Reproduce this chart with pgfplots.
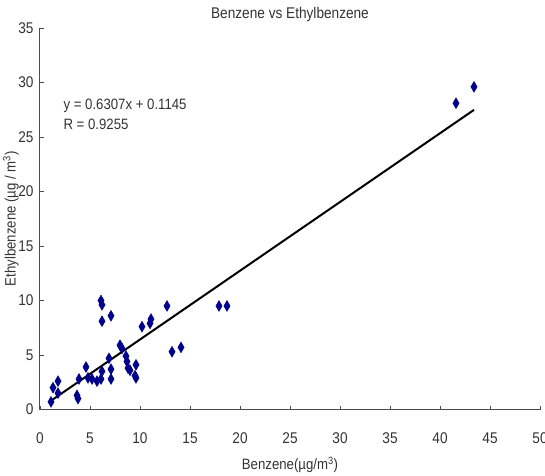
\documentclass[border=0pt]{standalone}
\usepackage{fontspec}
\setmainfont{Liberation Sans}[FakeStretch=0.88]
\usepackage{pgfplots}
\pgfplotsset{compat=1.18}
\definecolor{navy}{RGB}{0,0,140}
\begin{document}
\begin{tikzpicture}
\begin{axis}[
  at={(0,0)}, anchor=south west,
  scale only axis, width=500pt, height=381.5pt,
  xmin=0, xmax=50, ymin=0, ymax=35,
  axis lines=left, axis line style={-, draw=black!70, line width=1pt},
  xtick={0,5,...,50}, ytick={0,5,...,35},
  tick align=inside, major tick length=4pt,
  tick style={draw=black!70, line width=0.8pt},
  /pgf/number format/assume math mode=true,
  ticklabel style={font=\fontsize{15.5}{18}\selectfont, text=black!80},
  xticklabel style={yshift=-20pt},
  yticklabel style={xshift=-3pt},
  xlabel={Benzene(\textmu g/m\textsuperscript{3})},
  ylabel={Ethylbenzene (\textmu g / m\textsuperscript{3})},
  label style={font=\fontsize{15}{18}\selectfont, text=black!80},
  xlabel style={at={(axis description cs:0.5,0)}, anchor=center, yshift=-55pt},
  ylabel style={at={(axis description cs:-0.058,0.5)}, anchor=center},
  title={Benzene vs Ethylbenzene},
  title style={at={(axis description cs:0.5,1)}, anchor=center, yshift=8pt, font=\fontsize{15.5}{18}\selectfont, text=black!80},
  clip=false,
]
\addplot[only marks, mark=diamond*, mark size=4.2pt, color=navy,
  mark options={yscale=1.3, fill=navy, draw=navy}] coordinates {
(1.1,0.7) (1.3,2.0) (1.8,2.6) (1.8,1.5) (3.7,1.3) (3.8,1.0) (3.9,2.8)
(4.6,3.9) (4.8,2.9) (5.2,2.8) (5.7,2.6) (6.1,2.8) (6.2,3.5)
(6.1,10.0) (6.2,9.6) (6.2,8.1) (7.1,8.6) (6.9,4.7) (7.1,3.7) (7.1,2.8)
(8.0,5.9) (8.2,5.6) (8.6,4.9) (8.7,4.4) (8.8,3.8) (9.0,3.6)
(9.6,4.1) (9.6,2.9) (9.5,3.1) (10.2,7.6) (11.0,7.9) (11.1,8.3)
(12.7,9.5) (13.2,5.3) (14.1,5.7) (17.9,9.5) (18.7,9.5)
(41.6,28.1) (43.4,29.6)
};
\addplot[black, line width=2pt] coordinates {(1.0,0.745) (43.4,27.49)};
\node[anchor=west, font=\fontsize{15}{18}\selectfont, text=black!80] at (axis cs:2.0,27.9) {y = 0.6307x + 0.1145};
\node[anchor=west, font=\fontsize{15}{18}\selectfont, text=black!80] at (axis cs:2.0,26.2) {R = 0.9255};
\end{axis}
\pgfresetboundingbox
\path[use as bounding box] (-40pt,-65.5pt) rectangle (505pt,409.5pt);
\end{tikzpicture}
\end{document}
